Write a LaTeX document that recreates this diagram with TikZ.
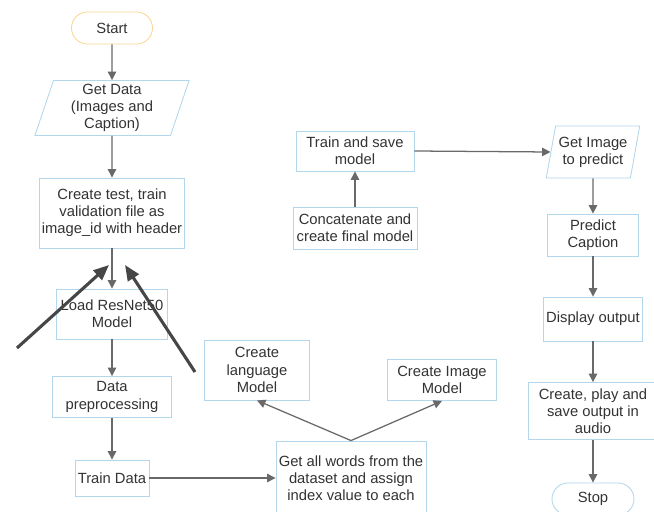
\documentclass[tikz,border=0pt]{standalone}
\usepackage{fontspec}
\setmainfont{Liberation Sans}
\usetikzlibrary{arrows.meta, shapes.geometric}
\definecolor{boxblue}{RGB}{178,214,236}
\definecolor{startorange}{RGB}{250,214,150}
\definecolor{txtgray}{RGB}{51,51,51}
\definecolor{linegray}{RGB}{105,105,105}

\begin{document}
\begin{tikzpicture}[
    x=0.025cm, y=-0.025cm,
    box/.style={
        draw=boxblue, fill=white, line width=0.6pt,
        align=center, text=txtgray, inner sep=1pt,
        font=\fontsize{10.5}{12.2}\selectfont
    },
    term/.style={box, rounded corners=0.4cm},
    iobox/.style={box, trapezium, trapezium left angle=75,
        trapezium right angle=105, trapezium stretches=true},
    flow/.style={-{Triangle[length=6pt, width=6pt]}, draw=linegray,
        line width=0.9pt},
    pointer/.style={-{Triangle[length=11pt, width=9pt]},
        draw=gray!55!black, line width=2.2pt}
]
\useasboundingbox (0,0) rectangle (654,512);

% left column
\node[term, draw=startorange, minimum width=2.025cm, minimum height=0.8cm]
    (start) at (112,28) {Start};
\node[iobox, minimum width=3.875cm, minimum height=1.375cm]
    (getdata) at (112,108) {Get Data\\(Images and\\Caption)};
\node[box, minimum width=3.625cm, minimum height=1.75cm]
    (split) at (112,213) {Create test, train\\validation file as\\image\_id with header};
\node[box, minimum width=2.775cm, minimum height=1.25cm]
    (resnet) at (112,314) {Load ResNet50\\Model};
\node[box, minimum width=2.975cm, minimum height=1.025cm]
    (prep) at (112,397) {Data\\preprocessing};
\node[box, minimum width=1.85cm, minimum height=0.9cm]
    (train) at (112,478) {Train Data};

% middle part
\node[box, minimum width=3.75cm, minimum height=1.85cm]
    (words) at (351,478) {Get all words from the\\dataset and assign\\index value to each};
\node[box, minimum width=2.625cm, minimum height=1.5cm]
    (lang) at (257,370) {Create\\language\\Model};
\node[box, minimum width=2.725cm, minimum height=1.025cm]
    (image) at (442,380) {Create Image\\Model};
\node[box, minimum width=3.1cm, minimum height=1.05cm]
    (concat) at (355,228) {Concatenate and\\create final model};
\node[box, minimum width=2.95cm, minimum height=1cm]
    (save) at (355,151) {Train and save\\model};

% right column
\node[iobox, minimum width=2.35cm, minimum height=1.3cm]
    (getimg) at (593,152) {Get Image\\to predict};
\node[box, minimum width=2.275cm, minimum height=1.05cm]
    (predict) at (593,235) {Predict\\Caption};
\node[box, minimum width=2.475cm, minimum height=1.1cm]
    (display) at (593,319) {Display output};
\node[box, minimum width=3.25cm, minimum height=1.425cm]
    (audio) at (593,411) {Create, play and\\save output in\\audio};
\node[term, minimum width=2.05cm, minimum height=0.8cm]
    (stop) at (593,499) {Stop};

% connectors
\draw[flow] (start) -- (getdata);
\draw[flow] (getdata) -- (split);
\draw[flow] (split) -- (resnet);
\draw[flow] (resnet) -- (prep);
\draw[flow] (prep) -- (train);
\draw[flow] (train.east) -- (train.east -| words.west);
\draw[flow] (words.north) -- (lang.south);
\draw[flow] (words.north) -- (image.south);
\draw[flow] (concat) -- (save);
\draw[flow] (save.east) -- (getimg.west);
\draw[flow] (getimg) -- (predict);
\draw[flow] (predict) -- (display);
\draw[flow] (display) -- (audio);
\draw[flow] (audio) -- (stop);

% the two dark marker arrows
\coordinate (m1) at (17,348);
\coordinate (m2) at (195,372);
\draw[pointer] (m1) -- (109,265);
\draw[pointer] (m2) -- (125,265);
\end{tikzpicture}
\end{document}
